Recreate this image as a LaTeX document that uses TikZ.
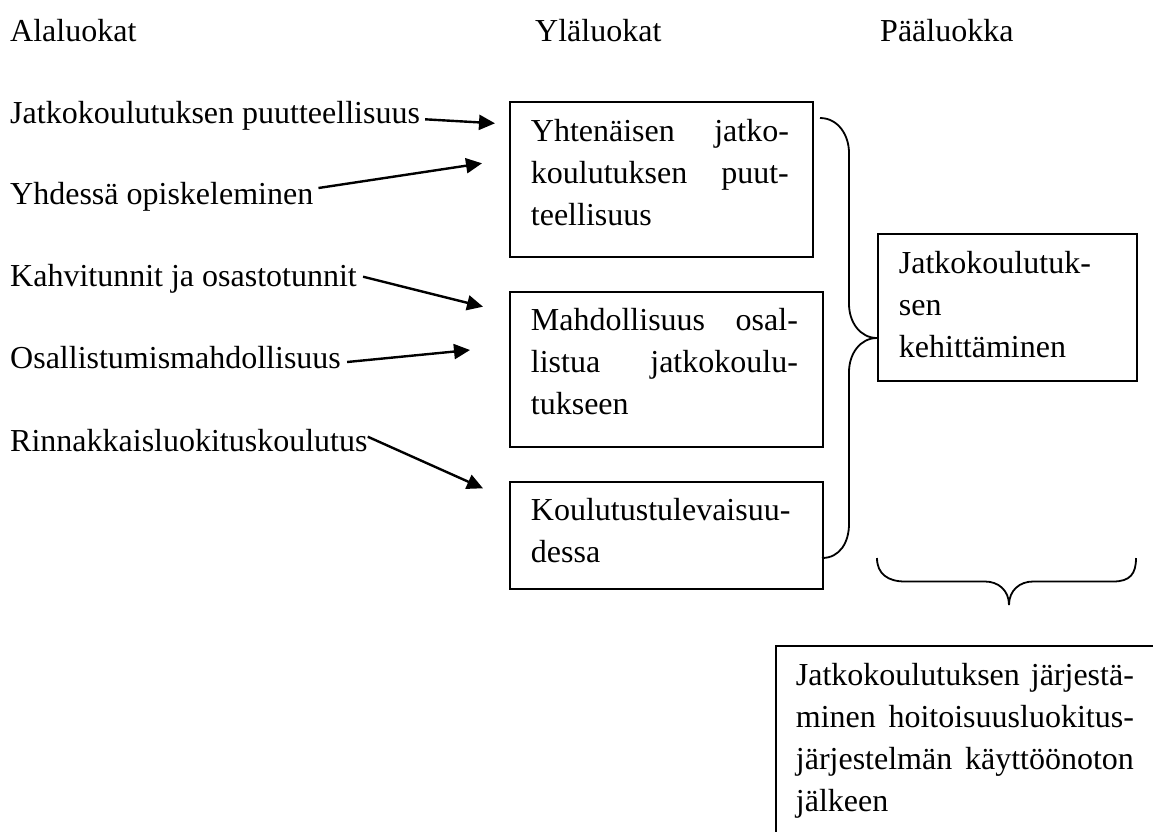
\documentclass[tikz,border=0pt]{standalone}
\usepackage{fontspec}
\setmainfont{Liberation Serif}
\usetikzlibrary{arrows.meta,calc}
\tikzset{
  lbl/.style={inner sep=0pt, anchor=base west, font=\fontsize{32}{41.7}\selectfont},
  boxnode/.style={draw, line width=1.8pt, inner sep=0pt, anchor=north west, font=\fontsize{32}{41.7}\selectfont},
  arr/.style={line width=2.4pt, -{Triangle[length=16pt,width=15pt]}},
  brace/.style={line width=1.8pt}
}
\begin{document}
\begin{tikzpicture}[x=1pt,y=-1pt]
\path[use as bounding box, clip] (0,0) rectangle (1153,831);
\fill[white] (0,0) rectangle (1153,831);

% headers
\node[lbl] (h1) at (10,41.7) {Alaluokat};
\node[lbl] (h2) at (535,41.7) {Yläluokat};
\node[lbl] (h3) at (880,41.7) {Pääluokka};

% sub-categories
\node[lbl] (l1) at (10,123.3) {Jatkokoulutuksen puutteellisuus};
\node[lbl] (l2) at (10,204) {Yhdessä opiskeleminen};
\node[lbl] (l3) at (10,286.7) {Kahvitunnit ja osastotunnit};
\node[lbl] (l4) at (10,368) {Osallistumismahdollisuus};
\node[lbl] (l5) at (10,451.7) {Rinnakkaisluokituskoulutus};

% upper categories
\node[boxnode, text height=40pt, text depth=115pt] (b1) at (509,101)
  {\hspace*{21pt}\parbox[t]{258pt}{Yhtenäisen\hfill jatko-\\koulutuksen\hfill puut-\\teellisuus}\hspace*{24pt}};
\node[boxnode, text height=39pt, text depth=116pt] (b2) at (509,291)
  {\hspace*{21pt}\parbox[t]{267pt}{Mahdollisuus\hfill osal-\\listua\hfill jatkokoulu-\\tukseen}\hspace*{25pt}};
\node[boxnode, text height=39pt, text depth=68pt] (b3) at (509,481)
  {\hspace*{21pt}\parbox[t]{267pt}{Koulutustulevaisuu-\\dessa}\hspace*{25pt}};

% main category
\node[boxnode, text height=40pt, text depth=107pt] (b4) at (877,233)
  {\hspace*{21pt}\parbox[t]{217pt}{Jatkokoulutuk-\\sen\\kehittäminen}\hspace*{21pt}};

% bottom box
\node[boxnode, text height=40pt, text depth=250pt] (b5) at (775,645)
  {\hspace*{20pt}\parbox[t]{338pt}{Jatkokoulutuksen\hfill järjestä-\\minen\hfill hoitoisuusluokitus-\\järjestelmän\hfill käyttöönoton\\jälkeen}\hspace*{40pt}};

% arrow tips
\coordinate (t1) at (495,123.3);
\coordinate (t2) at (482,163.3);
\coordinate (t3) at (483,306.7);
\coordinate (t4) at (470,350);
\coordinate (t5) at (483,488.3);

\draw[arr] ($(l1.base east)+(5,-4)$) -- (t1);
\draw[arr] ($(l2.base east)+(5,-16)$) -- (t2);
\draw[arr] ($(l3.base east)+(6,-10)$) -- (t3);
\draw[arr] ($(l4.base east)+(6,-6)$) -- (t4);
\draw[arr] ($(l5.base east)+(0,-15)$) -- (t5);

% right brace between upper categories and main category
\draw[brace] (820,118) .. controls (838,118) and (849,135) .. (849,153)
  -- (849,304) .. controls (849,322) and (860,338) .. (877,338)
  .. controls (860,338) and (849,354) .. (849,372)
  -- (849,524) .. controls (849,542) and (840,558) .. (822,558);

% bottom brace under main category
\draw[brace] (877,558) .. controls (877,574) and (888,581.5) .. (905,581.5)
  -- (985,581.5) .. controls (998,581.5) and (1009,590) .. (1009,605)
  .. controls (1009,590) and (1020,581.5) .. (1033,581.5)
  -- (1113,581.5) .. controls (1130,581.5) and (1136,574) .. (1136,558);
\end{tikzpicture}
\end{document}
